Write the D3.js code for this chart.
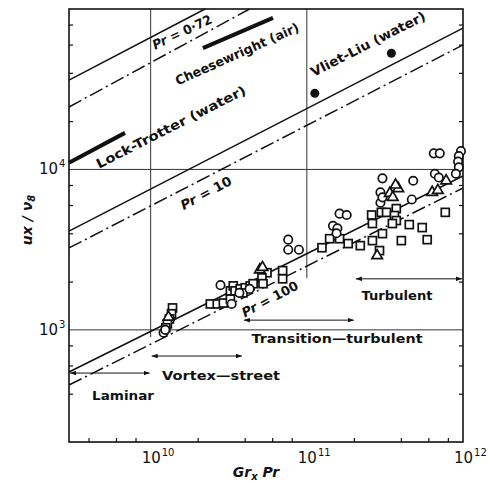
<!DOCTYPE html>
<html>
<head>
<meta charset="utf-8">
<script src="https://cdn.jsdelivr.net/npm/d3@7"></script>
<style>
body { margin: 0; background: #fff; }
text { font-family: "DejaVu Sans", sans-serif; fill: #111; }
</style>
</head>
<body>
<div id="chart"></div>
<script>
// values: x = Gr_x Pr, y = ux / v8

var xDomain = [3e9, 1e12];
var yDomain = [200, 1e5];
var xDecades = [1e10, 1e11, 1e12];
var yDecades = [1e3, 1e4];
var minorSteps = [2, 4, 6, 8];

var circlePts = [
    [6.5e11, 1.26e4], [7.1e11, 1.26e4],
    [9.7e11, 1.30e4], [9.4e11, 1.21e4], [9.3e11, 1.12e4], [9.4e11, 1.03e4], [9.0e11, 9.4e3],
    [3.05e11, 8.8e3], [4.8e11, 8.5e3], [6.6e11, 9.4e3], [7.0e11, 8.9e3],
    [2.96e11, 7.2e3], [2.96e11, 6.2e3], [3.05e11, 6.7e3], [4.7e11, 6.5e3],
    [1.62e11, 5.3e3], [1.8e11, 5.2e3], [1.47e11, 4.45e3], [1.57e11, 4.3e3], [1.55e11, 4.0e3],
    [7.6e10, 3.65e3], [7.6e10, 3.16e3], [8.9e10, 3.16e3],
    [2.8e10, 1.9e3], [3.3e10, 1.45e3], [3.7e10, 1.7e3], [4.3e10, 1.8e3],
    [1.21e10, 960], [1.24e10, 1.0e3]
];

var squarePts = [
    [7.7e11, 5.4e3],
    [2.6e11, 5.2e3], [2.63e11, 4.6e3], [3.0e11, 5.4e3], [3.24e11, 5.4e3], [3.74e11, 5.7e3],
    [3.64e11, 5.16e3], [3.74e11, 4.8e3], [3.53e11, 4.6e3],
    [4.53e11, 4.53e3], [5.48e11, 4.34e3], [5.9e11, 3.65e3], [4.03e11, 3.6e3], [3.05e11, 3.98e3],
    [2.63e11, 3.6e3], [2.2e11, 3.35e3], [2.92e11, 3.12e3], [1.84e11, 3.45e3], [1.62e11, 3.7e3],
    [1.4e11, 3.7e3], [1.25e11, 3.25e3],
    [7.0e10, 2.34e3], [7.0e10, 2.08e3], [5.56e10, 2.27e3], [5.16e10, 2.11e3], [5.24e10, 1.94e3],
    [2.41e10, 1.45e3], [2.67e10, 1.45e3], [2.92e10, 1.47e3], [3.24e10, 1.56e3], [3.24e10, 1.75e3],
    [3.38e10, 1.88e3], [3.47e10, 1.75e3], [3.74e10, 1.8e3], [4.03e10, 1.83e3], [4.34e10, 1.88e3],
    [4.53e10, 1.94e3], [3.9e10, 1.7e3],
    [1.38e10, 1.37e3], [1.36e10, 1.26e3], [1.32e10, 1.17e3], [1.28e10, 1.09e3], [1.25e10, 1.03e3]
];

var trianglePts = [
    [3.85e11, 7.6e3], [3.4e11, 7.1e3], [3.55e11, 6.7e3], [3.7e11, 8.0e3],
    [6.35e11, 7.2e3], [6.9e11, 7.4e3], [7.8e11, 8.5e3],
    [2.82e11, 2.9e3], [5.0e10, 2.37e3], [5.2e10, 2.45e3], [1.3e10, 1.2e3]
];

// Vliet-Liu (water)
var filledPts = [[1.125e11, 2.98e4], [3.48e11, 5.3e4]];

// correlation lines, end points
var solidLines = [
    [[3e9, 3.6e4], [2.23e10, 1e5]],   // Pr = 0.72
    [[3e9, 4.13e3], [1e12, 7.6e4]],   // Pr = 10
    [[3e9, 546], [1e12, 9.1e3]]       // Pr = 100
];
var dashLines = [
    [[3e9, 2.45e4], [4.3e10, 1e5]],
    [[3e9, 3.24e3], [1e12, 5.97e4]],
    [[3e9, 453], [1e12, 7.66e3]]
];
var thickLines = [
    [[3e9, 1.1e4], [6.85e9, 1.69e4]],     // Lock-Trotter
    [[2.16e10, 5.7e4], [6.07e10, 8.8e4]]  // Cheesewright
];

var regimeNames = ["Laminar", "Vortex\u2014street", "Transition\u2014turbulent", "Turbulent"];
var regimeFrom = [3e9, 1e10, 3.9e10, 2.03e11];
var regimeTo = [1e10, 3.9e10, 2.03e11, 1e12];
var regimeAt = [538, 687, 1150, 2080];

var width = 488, height = 483;

var x = d3.scaleLog().domain(xDomain).range([69, 463]);
var y = d3.scaleLog().domain(yDomain).range([442, 9]);

var svg = d3.select("#chart").append("svg")
    .attr("width", width)
    .attr("height", height);

svg.append("rect").attr("width", width).attr("height", height).attr("fill", "#fff");

var defs = svg.append("defs");
defs.append("marker")
    .attr("id", "ah")
    .attr("viewBox", "0 0 8 6")
    .attr("refX", 8).attr("refY", 3)
    .attr("markerWidth", 6).attr("markerHeight", 5)
    .attr("markerUnits", "userSpaceOnUse")
    .attr("orient", "auto-start-reverse")
  .append("path")
    .attr("d", "M0,0L8,3L0,6Z")
    .attr("fill", "#111");

// grid lines
var grid = svg.append("g").attr("stroke", "#333").attr("stroke-width", 1);
grid.append("line").attr("x1", x(1e10)).attr("x2", x(1e10)).attr("y1", y(1e5)).attr("y2", y(900));
grid.append("line").attr("x1", x(1e11)).attr("x2", x(1e11)).attr("y1", y(1e5)).attr("y2", y(2100));
yDecades.forEach(function(v) {
    grid.append("line").attr("x1", x(xDomain[0])).attr("x2", x(xDomain[1])).attr("y1", y(v)).attr("y2", y(v));
});

// minor ticks
function minors(decs, dom) {
    var out = [];
    decs.forEach(function(d) {
        minorSteps.forEach(function(m) {
            var v = d * m;
            if (v > dom[0] && v < dom[1]) out.push(v);
        });
    });
    return out;
}
var xMinor = minors([1e9, 1e10, 1e11], xDomain);
var yMinor = minors([1e2, 1e3, 1e4], yDomain);

function styleAxis(g) {
    g.select(".domain").remove();
    g.selectAll("line").attr("stroke", "#111").attr("stroke-width", 1.2);
}
svg.append("g").attr("transform", "translate(0," + y(yDomain[0]) + ")")
    .call(d3.axisBottom(x).tickValues(xMinor).tickSize(-4).tickFormat(""))
    .call(styleAxis);
svg.append("g").attr("transform", "translate(" + x(xDomain[0]) + ",0)")
    .call(d3.axisLeft(y).tickValues(yMinor).tickSize(-4).tickFormat(""))
    .call(styleAxis);
svg.append("g").attr("transform", "translate(" + x(xDomain[1]) + ",0)")
    .call(d3.axisRight(y).tickValues(yMinor).tickSize(-4).tickFormat(""))
    .call(styleAxis);

// frame
svg.append("rect")
    .attr("x", x(xDomain[0])).attr("y", y(yDomain[1]))
    .attr("width", x(xDomain[1]) - x(xDomain[0]))
    .attr("height", y(yDomain[0]) - y(yDomain[1]))
    .attr("fill", "none").attr("stroke", "#111").attr("stroke-width", 1.6);

// tick labels
var xLab = svg.append("g").selectAll("text").data(xDecades).enter().append("text")
    .attr("x", function(d) { return x(d) - 9; })
    .attr("y", 463)
    .style("font-size", "15px");
xLab.append("tspan").text("10");
xLab.append("tspan").attr("dy", -7).attr("dx", 1).style("font-size", "10px")
    .text(function(d) { return Math.round(Math.log10(d)); });

var yLab = svg.append("g").selectAll("text").data(yDecades).enter().append("text")
    .attr("x", 39)
    .attr("y", function(d) { return y(d) + 5; })
    .style("font-size", "15px");
yLab.append("tspan").text("10");
yLab.append("tspan").attr("dy", -7).attr("dx", 1).style("font-size", "10px")
    .text(function(d) { return Math.round(Math.log10(d)); });

// axis titles
var xt = svg.append("text").attr("x", 256).attr("y", 477).attr("text-anchor", "middle")
    .style("font-size", "14px").style("font-style", "italic").style("font-weight", "bold");
xt.append("tspan").text("Gr");
xt.append("tspan").attr("dy", 3).style("font-size", "10px").text("x");
xt.append("tspan").attr("dy", -3).text(" Pr");

var yt = svg.append("text").attr("transform", "translate(32,220) rotate(-90)").attr("text-anchor", "middle")
    .style("font-size", "14px").style("font-style", "italic").style("font-weight", "bold");
yt.append("tspan").text("ux / \u03bd");
yt.append("tspan").attr("dy", 3).style("font-size", "10px").text("8");

// lines
var line = d3.line().x(function(d) { return x(d[0]); }).y(function(d) { return y(d[1]); });
var lg = svg.append("g").attr("fill", "none").attr("stroke", "#111");
lg.selectAll(".solid").data(solidLines).enter().append("path")
    .attr("class", "solid").attr("d", line).attr("stroke-width", 1.5);
lg.selectAll(".dash").data(dashLines).enter().append("path")
    .attr("class", "dash").attr("d", line).attr("stroke-width", 1.5)
    .attr("stroke-dasharray", "14,4,2,4");
lg.selectAll(".thick").data(thickLines).enter().append("path")
    .attr("class", "thick").attr("d", line).attr("stroke-width", 4);

// regime arrows
var rg = svg.append("g");
regimeNames.forEach(function(n, i) {
    rg.append("line")
        .attr("x1", x(regimeFrom[i]) + 1).attr("x2", x(regimeTo[i]) - 1)
        .attr("y1", y(regimeAt[i])).attr("y2", y(regimeAt[i]))
        .attr("stroke", "#111").attr("stroke-width", 1)
        .attr("marker-start", "url(#ah)").attr("marker-end", "url(#ah)");
});
var regimeLabelPos = [[123, 400, 62], [221, 380, 118], [337, 343, 171], [397, 300, 71]];
regimeNames.forEach(function(n, i) {
    var p = regimeLabelPos[i];
    rg.append("text").attr("x", p[0]).attr("y", p[1]).attr("text-anchor", "middle")
        .attr("textLength", p[2]).attr("lengthAdjust", "spacingAndGlyphs")
        .style("font-size", "13px").style("font-weight", "bold").text(n);
});

// points
var pg = svg.append("g").attr("stroke", "#111").attr("stroke-width", 1.7).attr("fill", "#fff");
pg.selectAll(".sq").data(squarePts).enter().append("rect").attr("class", "sq")
    .attr("x", function(d) { return x(d[0]) - 4; }).attr("y", function(d) { return y(d[1]) - 4; })
    .attr("width", 8).attr("height", 8);
pg.selectAll(".ci").data(circlePts).enter().append("circle").attr("class", "ci")
    .attr("cx", function(d) { return x(d[0]); }).attr("cy", function(d) { return y(d[1]); })
    .attr("r", 4.2);
var tri = d3.symbol().type(d3.symbolTriangle).size(48);
pg.selectAll(".tr").data(trianglePts).enter().append("path").attr("class", "tr")
    .attr("d", tri)
    .attr("transform", function(d) { return "translate(" + x(d[0]) + "," + y(d[1]) + ")"; });
svg.selectAll(".fi").data(filledPts).enter().append("circle").attr("class", "fi")
    .attr("cx", function(d) { return x(d[0]); }).attr("cy", function(d) { return y(d[1]); })
    .attr("r", 4.5).attr("fill", "#111");

// rotated labels along the lines
function slanted(cx, cy, angle, len, parts) {
    var t = svg.append("text")
        .attr("transform", "translate(" + cx + "," + cy + ") rotate(" + angle + ")")
        .attr("text-anchor", "middle").attr("dy", "0.35em")
        .attr("textLength", len).attr("lengthAdjust", "spacingAndGlyphs")
        .style("font-size", "13px").style("font-weight", "bold");
    parts.forEach(function(p) {
        t.append("tspan").style("font-style", p[1] ? "italic" : "normal").text(p[0]);
    });
}
slanted(182, 32, -25, 64, [["Pr", true], [" = 0\u00b772", false]]);
slanted(237, 54, -24, 134, [["Cheesewright (air)", false]]);
slanted(171, 127, -27, 166, [["Lock-Trotter (water)", false]]);
slanted(368, 44, -27, 127, [["Vliet-Liu (water)", false]]);
slanted(206, 193, -28, 56, [["Pr", true], [" = 10", false]]);
slanted(270, 299, -28, 62, [["Pr", true], [" = 100", false]]);
</script>
</body>
</html>
